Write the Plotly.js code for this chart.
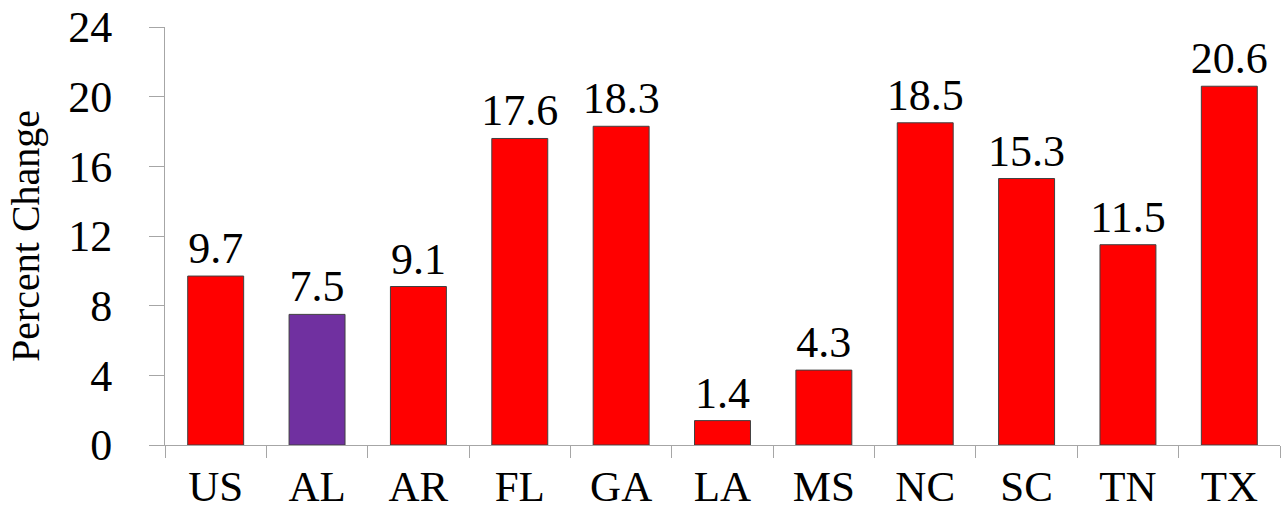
<!DOCTYPE html>
<html>
<head>
<meta charset="utf-8">
<script src="https://cdn.plot.ly/plotly-3.0.1.min.js"></script>
<style>html,body{margin:0;padding:0;background:#fff;}#chart{width:1288px;height:515px;}</style>
</head>
<body>
<div id="chart"></div>
<script>
const categories = ["US", "AL", "AR", "FL", "GA", "LA", "MS", "NC", "SC", "TN", "TX"];
const values = [9.7, 7.5, 9.1, 17.6, 18.3, 1.4, 4.3, 18.5, 15.3, 11.5, 20.6];
const highlight = "AL";
const yTicks = [0, 4, 8, 12, 16, 20, 24];

const colors = categories.map(c => c === highlight ? "#7030A0" : "#FF0000");
const font = "Liberation Serif, Times New Roman, serif";

const trace = {
  type: "bar",
  x: categories,
  y: values,
  text: values.map(v => v.toFixed(1)),
  textposition: "outside",
  constraintext: "none",
  cliponaxis: false,
  textfont: {family: font, size: 44, color: "#000"},
  marker: {color: colors, line: {color: "#404040", width: 1}},
  hoverinfo: "x+y"
};

const layout = {
  width: 1288, height: 515,
  margin: {l: 165, r: 8, t: 27, b: 70},
  paper_bgcolor: "#fff", plot_bgcolor: "#fff",
  bargap: 0.448,
  showlegend: false,
  uniformtext: {mode: false},
  font: {family: font, color: "#000"},
  xaxis: {
    type: "category",
    showgrid: false, zeroline: false,
    showline: true, linecolor: "#a6a6a6", linewidth: 1,
    ticks: "outside", ticklen: 12, tickcolor: "#a6a6a6", tickwidth: 1,
    tickson: "boundaries",
    ticklabelstandoff: 3,
    tickfont: {family: font, size: 43, color: "#000"}
  },
  yaxis: {
    range: [0, 24],
    tickvals: yTicks,
    ticktext: yTicks.map(String),
    showgrid: false, zeroline: false,
    showline: true, linecolor: "#a6a6a6", linewidth: 1,
    ticks: "outside", ticklen: 15, tickcolor: "#a6a6a6", tickwidth: 1,
    ticklabelstandoff: 28,
    tickfont: {family: font, size: 44, color: "#000"},
    title: {text: "Percent Change", font: {family: font, size: 40, color: "#000"}, standoff: 16}
  }
};

Plotly.newPlot("chart", [trace], layout, {staticPlot: true});
</script>
</body>
</html>
